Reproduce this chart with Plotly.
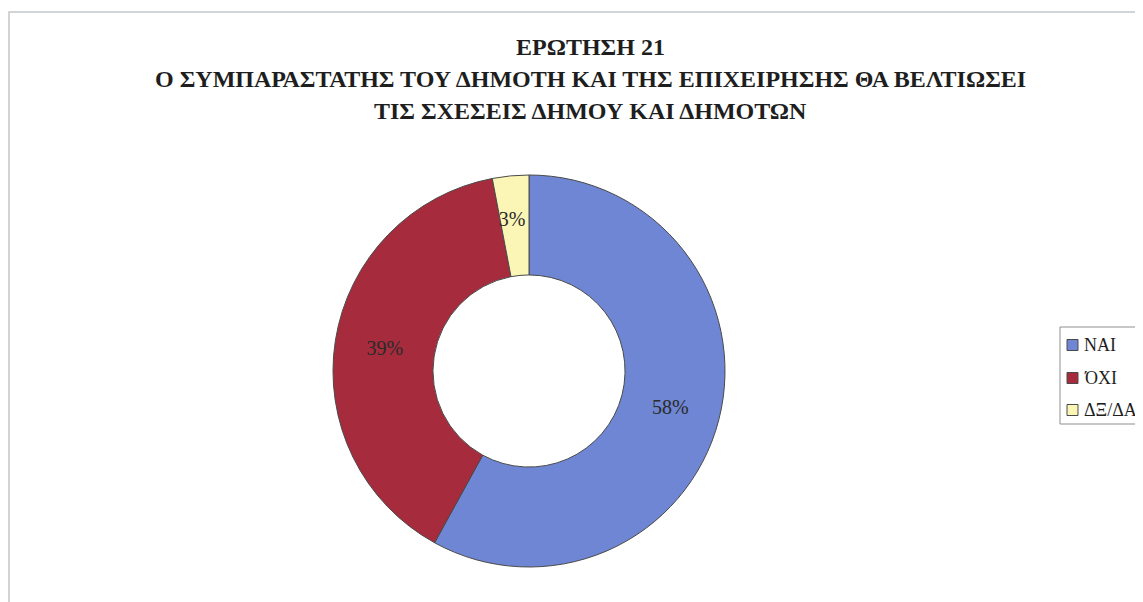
import plotly.graph_objects as go

labels = ["ΝΑΙ", "ΌΧΙ", "ΔΞ/ΔΑ"]
values = [58, 39, 3]
colors = ["#6e86d3", "#a62b3c", "#fbf6b6"]
title_lines = [
    "ΕΡΩΤΗΣΗ 21",
    "Ο ΣΥΜΠΑΡΑΣΤΑΤΗΣ ΤΟΥ ΔΗΜΟΤΗ ΚΑΙ ΤΗΣ ΕΠΙΧΕΙΡΗΣΗΣ ΘΑ ΒΕΛΤΙΩΣΕΙ",
    "ΤΙΣ ΣΧΕΣΕΙΣ ΔΗΜΟΥ ΚΑΙ ΔΗΜΟΤΩΝ",
]

W, H = 1143, 602
OFF = 8  # page body margin


def px(x):
    return (x - OFF) / W


def py(y):
    return 1 - (y - OFF) / H


cx, cy, R = 529, 371, 196

# small slices get their label nudged toward the ring's middle (blank padding lines)
templates = ["%{percent:.0%}" if v >= 10 else "&nbsp;<br>&nbsp;<br>%{percent:.0%}" for v in values]

fig = go.Figure(go.Pie(
    labels=labels,
    values=values,
    hole=0.49,
    sort=False,
    direction="clockwise",
    rotation=0,
    marker=dict(colors=colors, line=dict(color="#4a4a4a", width=1)),
    texttemplate=templates,
    textposition="inside",
    insidetextorientation="horizontal",
    textfont=dict(family="Liberation Serif", size=20, color="#2a2a2a"),
    domain=dict(x=[px(cx - R), px(cx + R)], y=[py(cy + R), py(cy - R)]),
    showlegend=False,
))

title_y = [47, 79, 111]
for txt, yy in zip(title_lines, title_y):
    fig.add_annotation(
        text=f"<b>{txt}</b>", x=px(590), y=py(yy), xref="paper", yref="paper",
        xanchor="center", yanchor="middle", showarrow=False,
        font=dict(family="Liberation Serif", size=24, color="#1e1e1e"),
    )

# outer frame
fig.add_shape(type="rect", xref="paper", yref="paper",
              x0=px(9), x1=1.05, y0=-0.05, y1=py(12),
              line=dict(color="#c4c8cc", width=1.5), fillcolor="rgba(0,0,0,0)")

# legend
fig.add_shape(type="rect", xref="paper", yref="paper",
              x0=px(1060), x1=1.05, y0=py(424), y1=py(327),
              line=dict(color="#8f8f8f", width=1), fillcolor="white")
leg_y = [345, 378, 410]
for lab, col, yy in zip(labels, colors, leg_y):
    fig.add_shape(type="rect", xref="paper", yref="paper",
                  x0=px(1067), x1=px(1078), y0=py(yy + 5.5), y1=py(yy - 5.5),
                  line=dict(color="#4a4a4a", width=1), fillcolor=col)
    fig.add_annotation(
        text=lab, x=px(1082), y=py(yy), xref="paper", yref="paper",
        xanchor="left", yanchor="middle", showarrow=False,
        font=dict(family="Liberation Serif", size=18, color="#1e1e1e"),
    )

fig.update_layout(
    width=W, height=H,
    margin=dict(l=0, r=0, t=0, b=0, autoexpand=False),
    paper_bgcolor="white", plot_bgcolor="white",
    uniformtext=dict(minsize=20, mode="show"),
    showlegend=False,
)

fig.write_html("out.html")
